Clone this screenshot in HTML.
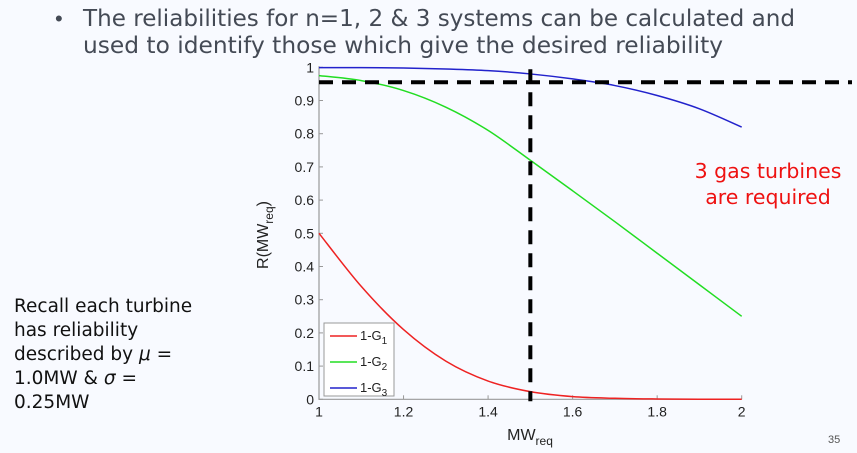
<!DOCTYPE html>
<html><head><meta charset="utf-8"><style>
html,body{margin:0;padding:0;background:#f8faff;}
svg{display:block;font-family:"Liberation Sans",Arial,sans-serif;}
</style></head><body>
<svg id="s" width="857" height="453" viewBox="0 0 857 453">
<rect width="857" height="453" fill="#f8faff"/>
<text x="55" y="26" font-size="22" fill="#444a55">•</text>
<text x="83" y="26" font-size="23" fill="#444a55" font-family="DejaVu Sans, sans-serif" textLength="712" lengthAdjust="spacingAndGlyphs">The reliabilities for n=1, 2 &amp; 3 systems can be calculated and</text>
<text x="83" y="53" font-size="23" fill="#444a55" font-family="DejaVu Sans, sans-serif" textLength="640" lengthAdjust="spacingAndGlyphs">used to identify those which give the desired reliability</text>
<g font-family="DejaVu Sans, sans-serif" font-size="18.5" fill="#111">
<text x="14" y="312">Recall each turbine</text>
<text x="14" y="336">has reliability</text>
<text x="14" y="360">described by <tspan font-style="italic">μ</tspan> =</text>
<text x="14" y="384">1.0MW &amp; <tspan font-style="italic">σ</tspan> =</text>
<text x="14" y="408">0.25MW</text>
</g>
<g font-family="DejaVu Sans, sans-serif" font-size="20.5" fill="#ee1111" text-anchor="middle">
<text x="768" y="178">3 gas turbines</text>
<text x="768" y="204">are required</text>
</g>
<text x="828" y="443" font-size="11" fill="#555">35</text>
<g id="chart"></g>
</svg>
<script>
const xs=[1,1.1,1.2,1.3,1.4,1.5,1.6,1.7,1.8,1.9,2];
const g1=[0.50,0.34,0.21,0.115,0.055,0.023,0.008,0.003,0.001,0.0002,0];
const g2=[0.975,0.96,0.93,0.88,0.81,0.72,0.628,0.535,0.44,0.345,0.25];
const g3=[0.999,0.999,0.998,0.995,0.99,0.98,0.965,0.945,0.915,0.875,0.82];
const xTicks=[1,1.2,1.4,1.6,1.8,2];
const yTicks=[0,0.1,0.2,0.3,0.4,0.5,0.6,0.7,0.8,0.9,1];
const reqR=0.955, reqMW=1.5;
const X=v=>319+(v-1)*422.7, Y=v=>399.3-v*332;
const NS="http://www.w3.org/2000/svg", c=document.getElementById('chart');
function mk(t,a){const e=document.createElementNS(NS,t);for(const k in a)e.setAttribute(k,a[k]);c.appendChild(e);return e;}
function smooth(P){let d='M'+P[0][0]+' '+P[0][1];for(let i=0;i<P.length-1;i++){const p0=P[Math.max(i-1,0)],p1=P[i],p2=P[i+1],p3=P[Math.min(i+2,P.length-1)];
d+=`C${p1[0]+(p2[0]-p0[0])/6} ${p1[1]+(p2[1]-p0[1])/6} ${p2[0]-(p3[0]-p1[0])/6} ${p2[1]-(p3[1]-p1[1])/6} ${p2[0]} ${p2[1]}`;}return d;}
let e;
e=mk('path',{d:`M${X(1)} ${Y(1)-1}V${Y(0)}H${X(2)}`,stroke:'#999',fill:'none','stroke-width':1.2});


xTicks.forEach(t=>{mk('line',{x1:X(t),x2:X(t),y1:Y(0),y2:Y(0)-4,stroke:'#999'});
e=mk('text',{x:X(t),y:Y(0)+17,'font-size':14,'text-anchor':'middle',fill:'#222'});e.textContent=t;

});
yTicks.forEach(t=>{mk('line',{x1:X(1),x2:X(1)+4,y1:Y(t),y2:Y(t),stroke:'#999'});
e=mk('text',{x:X(1)-5,y:Y(t)+5,'font-size':14,'text-anchor':'end',fill:'#222'});e.textContent=t;

});
e=mk('text',{x:530,y:440,'font-size':16,'text-anchor':'middle',fill:'#222'});
e.innerHTML='MW<tspan font-size="12" dy="5">req</tspan>';


e=mk('text',{x:0,y:0,'font-size':16,'text-anchor':'middle',fill:'#222',transform:'translate(268,235) rotate(-90)'});
e.innerHTML='R(MW<tspan font-size="12" dy="5">req</tspan><tspan dy="-5">)</tspan>';


[[g1,'#ee2222','series-1-g1'],[g2,'#22dd22','series-1-g2'],[g3,'#2222cc','series-1-g3']].forEach(([d,col,n])=>{
const p=mk('path',{d:smooth(xs.map((x,i)=>[X(x),Y(d[i])])),stroke:col,fill:'none','stroke-width':1.5,'stroke-linejoin':'round'});

});
e=mk('line',{x1:X(1),x2:852,y1:Y(reqR),y2:Y(reqR),stroke:'#000','stroke-width':4,'stroke-dasharray':'14 9'});


e=mk('line',{x1:X(reqMW),x2:X(reqMW),y1:Y(1)+2,y2:Y(0)+2,stroke:'#000','stroke-width':4,'stroke-dasharray':'14 9'});


e=mk('rect',{x:324,y:323,width:70,height:73,fill:'#fff',stroke:'#999'});


[['1','#ee2222'],['2','#22dd22'],['3','#2222cc']].forEach(([s,col],i)=>{
const y=336+i*26;
mk('line',{x1:330,x2:357,y1:y,y2:y,stroke:col,'stroke-width':1.4});
const t=mk('text',{x:360,y:y+4,'font-size':13,fill:'#222'});
t.innerHTML='1-G<tspan font-size="10" dy="4">'+s+'</tspan>';

});
</script>
</body></html>
